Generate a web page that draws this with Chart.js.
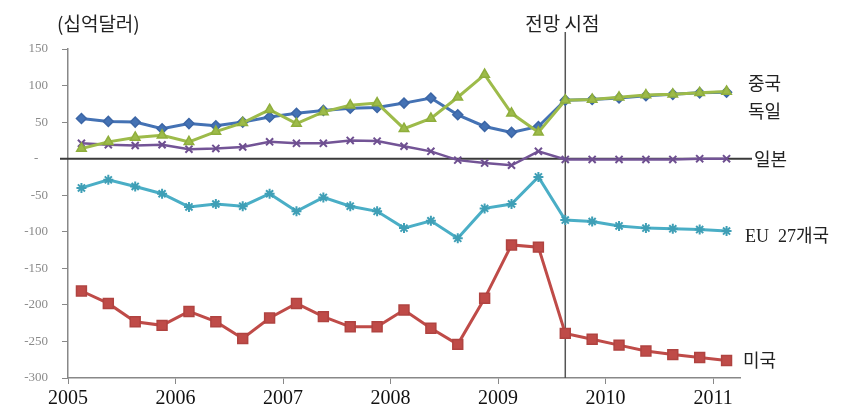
<!DOCTYPE html>
<html><head><meta charset="utf-8">
<script src="https://cdn.jsdelivr.net/npm/chart.js@4"></script>
<style>html,body{margin:0;padding:0;background:#fff;}#wrap{width:852px;height:410px;}</style>
</head><body><div id="wrap"><canvas id="c" width="852" height="410"></canvas></div>
<script>
// Quarterly points (plotted at mid-quarter)
const quarters = ['2005Q1','2005Q2','2005Q3','2005Q4','2006Q1','2006Q2','2006Q3','2006Q4',
  '2007Q1','2007Q2','2007Q3','2007Q4','2008Q1','2008Q2','2008Q3','2008Q4',
  '2009Q1','2009Q2','2009Q3','2009Q4','2010Q1','2010Q2','2010Q3','2010Q4','2011Q1'];
const china   = [14,23,29,32,23,37,49,67,48,64,73,76,41,55,84,115,62,36,80,81,84,87,88,90,92];
const germany = [55,51,50,41,48,45,50,57,62,66,69,70,76,83,60,44,36,44,80,81,83,86,88,90,91];
const japan   = [21,19,18,19,13,14,16,23,21,21,25,24,17,10,-2,-6,-9,10,-1,-1,-1,-1,-1,0,0];
const eu27    = [-40,-29,-38,-48,-66,-62,-65,-48,-72,-53,-65,-72,-95,-85,-109,-68,-62,-25,-84,-86,-92,-95,-96,-97,-99];
const usa     = [-181,-198,-223,-228,-209,-223,-246,-218,-198,-216,-230,-230,-207,-232,-254,-191,-118,-121,-239,-247,-255,-263,-268,-272,-276];
const seriesNames = ['중국','독일','일본','EU  27개국','미국'];
const xTickYears = [2005,2006,2007,2008,2009,2010,2011];
const yTickLabels = {150:'150',100:'100',50:'50',0:'-   ',[-50]:'-50',[-100]:'-100',[-150]:'-150',[-200]:'-200',[-250]:'-250',[-300]:'-300'};
const forecastStart = '2009Q3';
const unitLabel = '(십억달러)';
const forecastLabel = '전망 시점';

function qpos(q){ const y=+q.slice(0,4), n=+q.slice(5); return y + (n-0.5)/4; }
function pts(arr){ return arr.map((v,i)=>({x:qpos(quarters[i]), y:v})); }

const annot = {
  id:'annot',
  beforeDatasetsDraw(chart){
    const ctx=chart.ctx, xs=chart.scales.x, ys=chart.scales.y;
    ctx.save();
    const y0=ys.getPixelForValue(0);
    ctx.strokeStyle='#3a3a3a'; ctx.lineWidth=2;
    ctx.beginPath(); ctx.moveTo(xs.left-8,y0); ctx.lineTo(xs.right+12,y0); ctx.stroke();
    const xf=xs.getPixelForValue(qpos(forecastStart));
    ctx.strokeStyle='#555'; ctx.lineWidth=1.5;
    ctx.beginPath(); ctx.moveTo(xf,32); ctx.lineTo(xf,ys.bottom); ctx.stroke();
    ctx.restore();
  },
  afterDraw(chart){
    const ctx=chart.ctx, xs=chart.scales.x;
    ctx.save();
    ctx.fillStyle='#222';
    ctx.font='19px "Noto Sans CJK KR"';
    ctx.textBaseline='alphabetic';
    ctx.textAlign='left';
    ctx.fillText(unitLabel,57,31);
    ctx.textAlign='center';
    ctx.fillText(forecastLabel,xs.getPixelForValue(qpos(forecastStart))-3,31);
    ctx.textAlign='left';
    ctx.font='18px "Liberation Serif","Noto Sans CJK KR"';
    const pos=[[748,90],[748,118],[754,166],[745,242],[743,367]];
    seriesNames.forEach((n,i)=>ctx.fillText(n,pos[i][0],pos[i][1]));
    ctx.restore();
  }
};

const common = {borderWidth:3, pointRadius:5, pointBorderWidth:1.5, tension:0, fill:false};
new Chart(document.getElementById('c'), {
  type:'line',
  data:{datasets:[
    {...common, label:seriesNames[0], data:pts(china), borderColor:'#9dbb4a', backgroundColor:'#9dbb4a', pointBorderColor:'#8fae3c', pointStyle:'triangle', pointRadius:5.5},
    {...common, label:seriesNames[1], data:pts(germany), borderColor:'#4472b4', backgroundColor:'#4472b4', pointBorderColor:'#3c66a6', pointStyle:'rectRot', pointRadius:5},
    {...common, label:seriesNames[2], data:pts(japan), borderColor:'#735496', backgroundColor:'#735496', pointBorderColor:'#6e4f90', pointStyle:'crossRot', pointRadius:5, pointBorderWidth:2, borderWidth:2.5},
    {...common, label:seriesNames[3], data:pts(eu27), borderColor:'#4aaec6', backgroundColor:'#4aaec6', pointBorderColor:'#3f9fb6', pointStyle:'star', pointRadius:5, pointBorderWidth:2},
    {...common, label:seriesNames[4], data:pts(usa), borderColor:'#bf4b48', backgroundColor:'#bf4b48', pointBorderColor:'#b04340', pointStyle:'rect', pointRadius:7}
  ]},
  options:{
    responsive:false, animation:false, devicePixelRatio:1,
    layout:{padding:{left:0,top:49,right:112,bottom:0}},
    plugins:{legend:{display:false}, tooltip:{enabled:false}},
    scales:{
      x:{type:'linear', min:2005, max:2011.25,
        afterBuildTicks(s){ s.ticks = xTickYears.map(v=>({value:v})); },
        afterFit(s){ s.height = 32; },
        ticks:{font:{family:'"Liberation Serif"', size:20}, color:'#111', padding:3, maxRotation:0, callback:v=>String(v)},
        grid:{display:true, drawOnChartArea:false, drawTicks:true, tickLength:6, color:'#888'},
        border:{display:true, color:'#888', width:1.5}
      },
      y:{min:-300, max:150,
        afterBuildTicks(s){ s.ticks = Object.keys(yTickLabels).map(Number).sort((a,b)=>b-a).map(v=>({value:v})); },
        afterFit(s){ s.width = 68; },
        ticks:{font:{family:'"Liberation Serif"', size:13}, color:'#8a8a8a', padding:14, callback:v=>yTickLabels[v]},
        grid:{display:true, drawOnChartArea:false, drawTicks:true, tickLength:6, color:'#888'},
        border:{display:true, color:'#888', width:1.5}
      }
    }
  },
  plugins:[annot]
});
</script></body></html>
